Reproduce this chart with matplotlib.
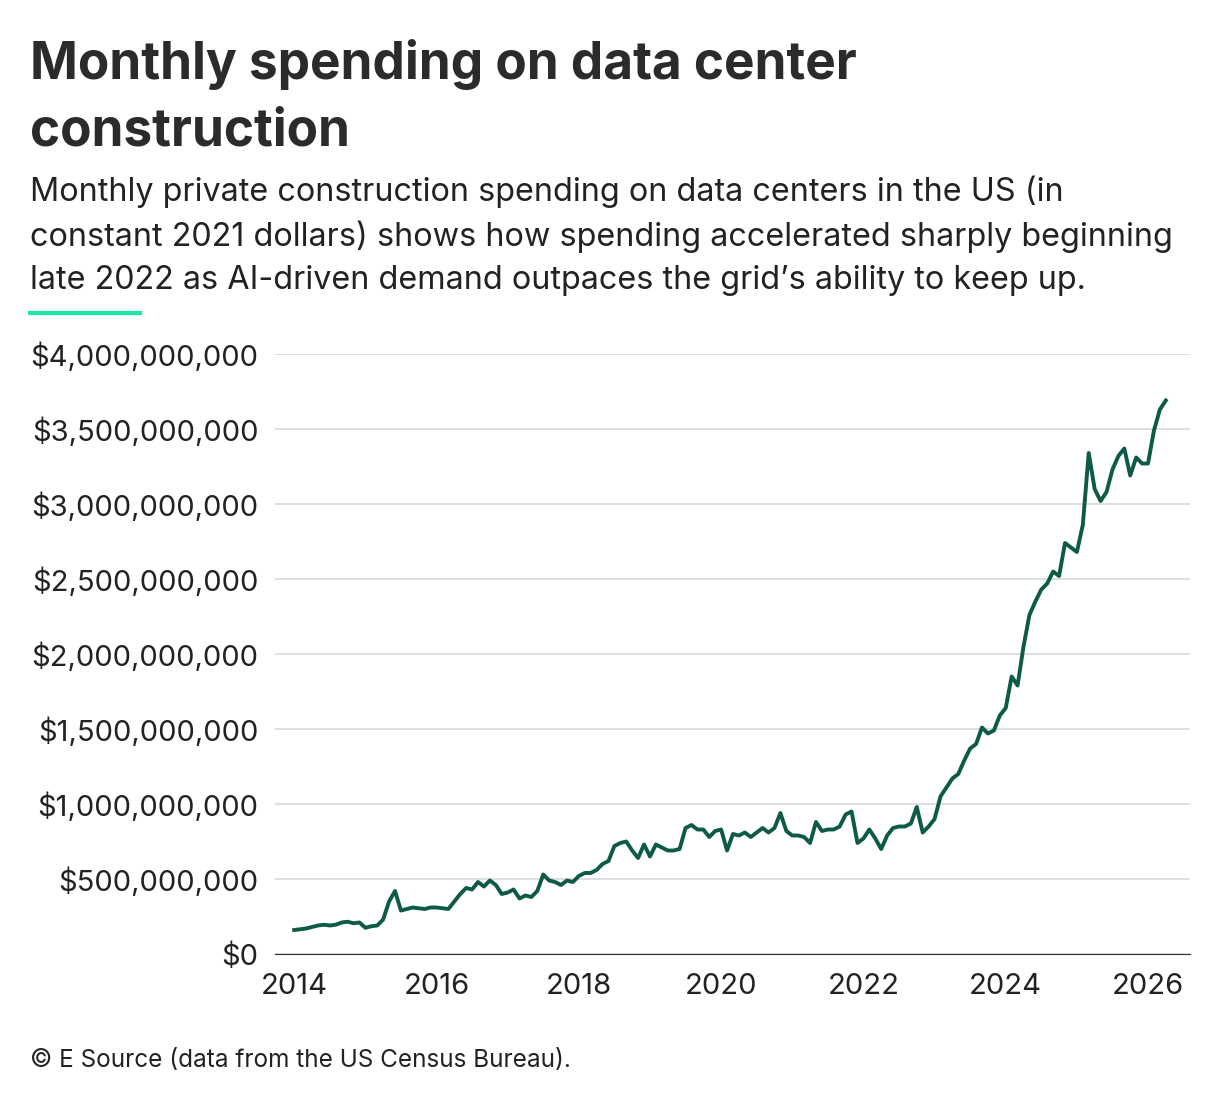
import matplotlib
matplotlib.use("Agg")
import matplotlib.pyplot as plt
from matplotlib.ticker import FuncFormatter
from matplotlib.lines import Line2D

plt.rcParams['font.family'] = ['Inter', 'DejaVu Sans']

y2014 = [160,165,170,180,190,195,190,195,210,215,205,210]
y2015 = [175,185,190,230,350,420,290,300,310,305,300,310]
y2016 = [310,305,300,350,400,440,430,480,450,490,460,400]
y2017 = [410,430,370,390,380,420,530,490,480,460,490,480]
y2018 = [520,540,540,560,600,620,720,740,750,690,640,730]
y2019 = [650,730,710,690,690,700,840,860,830,830,780,820]
y2020 = [830,690,800,790,810,780,810,840,810,840,940,820]
y2021 = [790,790,780,740,880,820,830,830,850,930,950,740]
y2022 = [770,830,770,700,790,840,850,850,870,980,810,850]
y2023 = [900,1050,1110,1170,1200,1290,1370,1400,1510,1470,1490,1590]
y2024 = [1640,1850,1790,2050,2260,2350,2430,2470,2550,2520,2740,2710]
y2025 = [2680,2860,3340,3100,3020,3080,3230,3320,3370,3190,3310,3270]
y2026 = [3270,3490,3630,3690]
values_musd = y2014+y2015+y2016+y2017+y2018+y2019+y2020+y2021+y2022+y2023+y2024+y2025+y2026
xticks = [2014, 2016, 2018, 2020, 2022, 2024, 2026]

x = [2014 + i/12 for i in range(len(values_musd))]
y = [v*1e6 for v in values_musd]

fig = plt.figure(figsize=(12.2, 11.08), dpi=100)
W, H = 1220, 1108
ax = fig.add_axes([275/W, 1-954/H, (1190-275)/W, 600/H])
ax.plot(x, y, color='#0d5a47', lw=2.8)
ax.set_xlim(2013.73, 2026.59)
ax.set_ylim(0, 4e9)
ax.set_yticks([i*5e8 for i in range(9)])
ax.yaxis.set_major_formatter(FuncFormatter(lambda v, p: f"${v:,.0f}"))
ax.set_xticks(xticks)
ax.grid(axis='y', color='#d9d9d9', lw=1.2)
ax.set_axisbelow(True)
for s in ['top', 'right', 'left']:
    ax.spines[s].set_visible(False)
ax.spines['bottom'].set_color('#333333')
ax.tick_params(axis='y', length=0, labelsize=21, pad=12, labelcolor='#222222')
ax.tick_params(axis='x', length=0, labelsize=21, pad=14, labelcolor='#222222')

fig.text(30/W, 1-65/H, "Monthly spending on data center", fontsize=37,
         fontweight='bold', color='#2b2b2b', va='center')
fig.text(30/W, 1-132/H, "construction", fontsize=37,
         fontweight='bold', color='#2b2b2b', va='center')
subs = ["Monthly private construction spending on data centers in the US (in",
        "constant 2021 dollars) shows how spending accelerated sharply beginning",
        "late 2022 as AI-driven demand outpaces the grid\u2019s ability to keep up."]
for i, s in enumerate(subs):
    fig.text(30/W, 1-(192+44.5*i)/H, s, fontsize=23.3, color='#222222', va='center')
fig.add_artist(Line2D([30/W, 140/W], [1-313/H, 1-313/H], color='#1de9a6', lw=3))
fig.text(30/W, 1-1061/H, "\u00a9 E Source (data from the US Census Bureau).",
         fontsize=17.5, color='#222222', va='center')
fig.savefig("out.png", dpi=100, facecolor='white')
